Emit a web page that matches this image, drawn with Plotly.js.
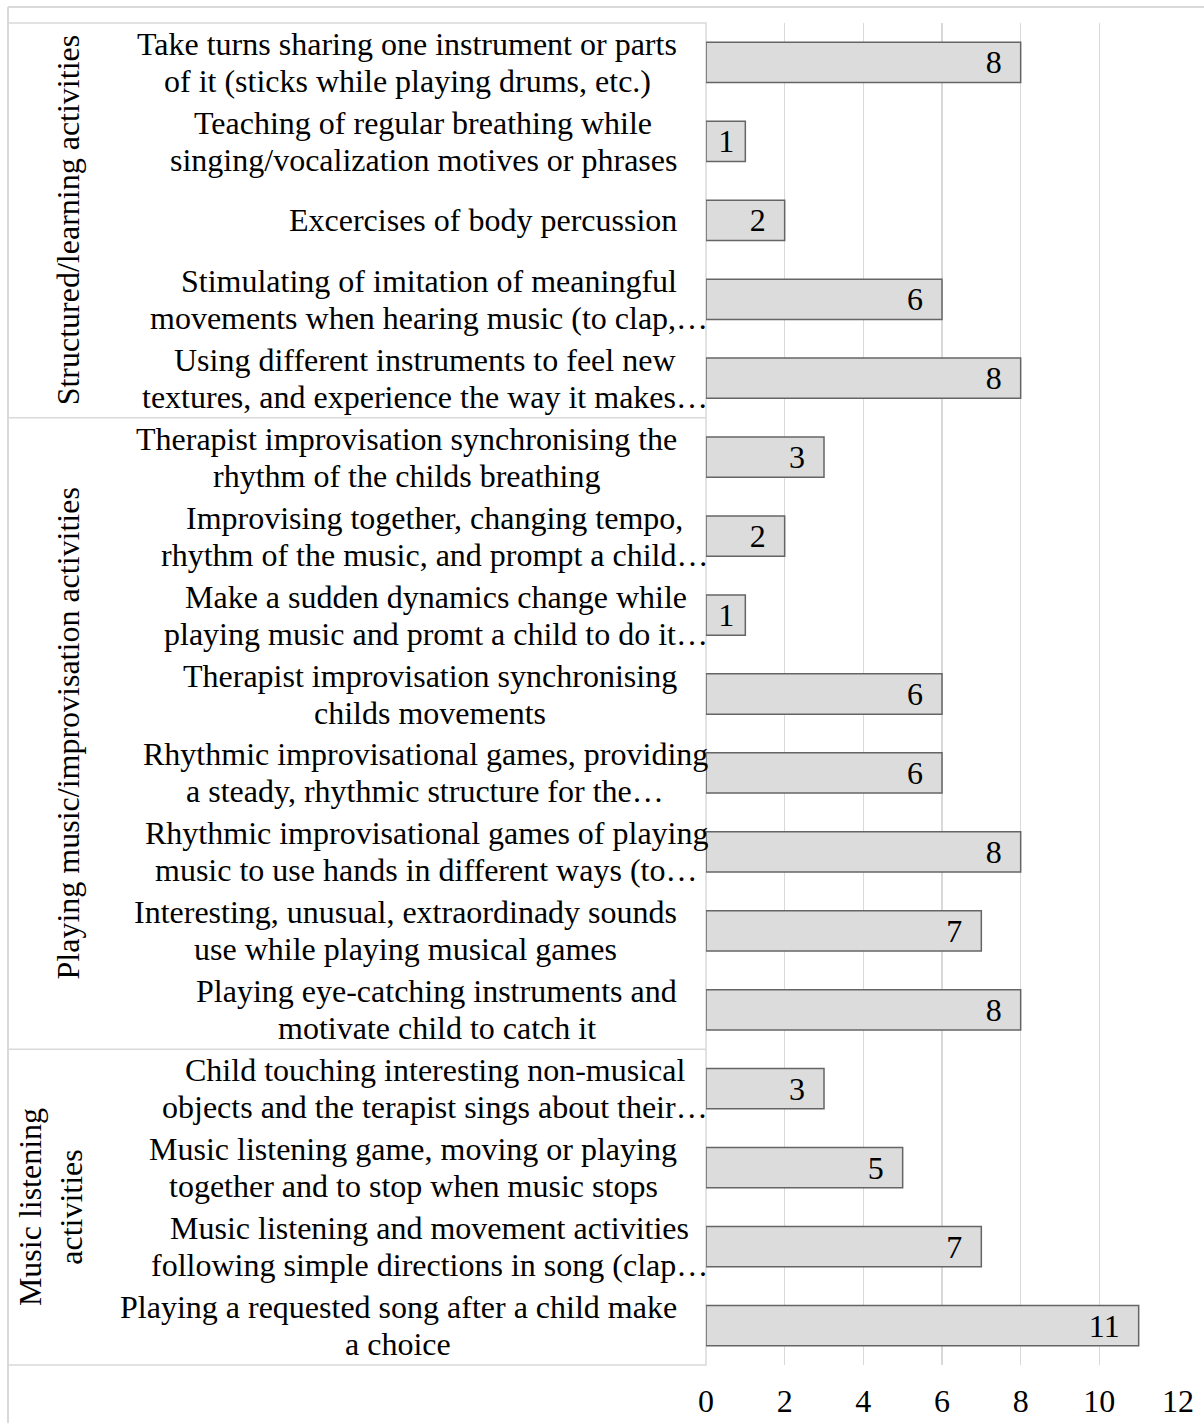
<!DOCTYPE html>
<html>
<head>
<meta charset="utf-8">
<script src="https://cdn.plot.ly/plotly-3.0.1.min.js"></script>
<style>html,body{margin:0;padding:0;background:#fff;}</style>
</head>
<body>
<div id="chart" style="width:1204px;height:1423px;"></div>
<script>
// Category labels (top to bottom)
const labels = [
  "Take turns sharing one instrument or parts\nof it (sticks while playing drums, etc.)",
  "Teaching of regular breathing while\nsinging/vocalization motives or phrases",
  "Excercises of body percussion",
  "Stimulating of imitation of meaningful\nmovements when hearing music (to clap,…",
  "Using different instruments to feel new\ntextures, and experience the way it makes…",
  "Therapist improvisation synchronising the\nrhythm of the childs breathing",
  "Improvising together, changing tempo,\nrhythm of the music, and prompt a child…",
  "Make a sudden dynamics change while\nplaying music and promt a child to do it…",
  "Therapist improvisation synchronising\nchilds movements",
  "Rhythmic improvisational games, providing\na steady, rhythmic structure for the…",
  "Rhythmic improvisational games of playing\nmusic to use hands in different ways (to…",
  "Interesting, unusual, extraordinady sounds\nuse while playing musical games",
  "Playing eye-catching instruments and\nmotivate child to catch it",
  "Child touching interesting non-musical\nobjects and the terapist sings about their…",
  "Music listening game, moving or playing\ntogether and to stop when music stops",
  "Music listening and movement activities\nfollowing simple directions in song (clap…",
  "Playing a requested song after a child make\na choice"
];
// Counts
const values = [8, 1, 2, 6, 8, 3, 2, 1, 6, 6, 8, 7, 8, 3, 5, 7, 11];
// Group labels and number of categories in each group
const groupNames = ["Structured/learning activities", "Playing music/improvisation activities", "Music listening\nactivities"];
const groupSizes = [5, 8, 4];
// X axis ticks
const xTicks = [0, 2, 4, 6, 8, 10, 12];

const FONT = "Liberation Serif, 'Times New Roman', serif";
const FS = 32;
const LINE_H = 37;
const N = labels.length;
const cats = labels.map(s => s.replace("\n", " "));

const barText = values.map(v => String(v) + (v < 2 ? "\u00a0" : "\u00a0\u00a0"));

const trace = {
  type: "bar",
  orientation: "h",
  x: values,
  y: cats,
  text: barText,
  textposition: "inside",
  insidetextanchor: "end",
  constraintext: "none",
  textangle: 0,
  textfont: {family: FONT, size: FS, color: "#000"},
  marker: {color: "#dcdcdc", line: {color: "#656565", width: 1.5}},
  hoverinfo: "skip"
};

// pixel geometry helpers (layout)
const W = 1204, H = 1423;
const mL = 706, mR = 26, mT = 23, mB = 58;
const pw = W - mL - mR, ph = H - mT - mB;
const px2x = p => (p - mL) / pw;
const px2y = p => (H - mB - p) / ph;

// text measuring for centred multi-line labels
const cv = document.createElement("canvas").getContext("2d");
cv.font = FS + "px 'Liberation Serif'";
const tw = s => cv.measureText(s).width;

const annotations = [];
labels.forEach((l, i) => {
  const lines = l.split("\n");
  const trunc = lines[lines.length - 1].endsWith("…");
  const right = trunc ? 708 : 677;
  const block = Math.max(...lines.map(tw));
  const cx = right - block / 2;
  lines.forEach((ln, k) => {
    annotations.push({
      xref: "paper", yref: "y", x: 0, y: cats[i],
      xanchor: "center", yanchor: "middle", align: "center",
      xshift: cx - mL,
      yshift: ((lines.length - 1) / 2 - k) * LINE_H,
      text: ln, showarrow: false,
      font: {family: FONT, size: FS, color: "#000"}
    });
  });
});

const shapes = [];
const gray = "#d9d9d9";
// label panel box
shapes.push({type: "rect", xref: "paper", yref: "paper", x0: px2x(8), x1: 0, y0: 0, y1: 1,
  line: {color: gray, width: 1.5}, layer: "below"});
// outer frame (top and left edges)
shapes.push({type: "line", xref: "paper", yref: "paper", x0: px2x(8), x1: px2x(W + 5), y0: px2y(7), y1: px2y(7), line: {color: gray, width: 2}});
shapes.push({type: "line", xref: "paper", yref: "paper", x0: px2x(8), x1: px2x(8), y0: px2y(7), y1: px2y(H + 5), line: {color: gray, width: 2}});

let start = 0;
groupNames.forEach((g, gi) => {
  const end = start + groupSizes[gi];
  if (gi > 0) {
    const yp = 1 - start / N;
    shapes.push({type: "line", xref: "paper", yref: "paper", x0: px2x(8), x1: 0, y0: yp, y1: yp, line: {color: gray, width: 1.5}});
  }
  const multi = g.includes("\n");
  annotations.push({
    xref: "paper", yref: "paper", x: 0, y: 1 - (start + end) / 2 / N,
    xanchor: "center", yanchor: "middle", align: "center",
    xshift: multi ? (51 - mL) : (68 - mL),
    textangle: -90,
    text: g.split("\n").join("<br>"), showarrow: false,
    font: {family: FONT, size: FS, color: "#000"}
  });
  start = end;
});

const layout = {
  width: W, height: H,
  margin: {l: mL, r: mR, t: mT, b: mB, pad: 0},
  paper_bgcolor: "#fff", plot_bgcolor: "#fff",
  showlegend: false,
  bargap: 0.49,
  font: {family: FONT, size: FS, color: "#000"},
  xaxis: {
    range: [0, 12], tickvals: xTicks, ticktext: xTicks.map(String),
    showgrid: true, gridcolor: gray, gridwidth: 1.5,
    zeroline: false, showline: false, ticks: "",
    ticklabelstandoff: 14,
    tickfont: {family: FONT, size: FS, color: "#000"},
    fixedrange: true
  },
  yaxis: {
    type: "category", categoryorder: "array", categoryarray: cats,
    range: [N - 0.5, -0.5],
    showticklabels: false, showgrid: false, zeroline: false, showline: false, ticks: "",
    fixedrange: true
  },
  shapes: shapes,
  annotations: annotations
};

Plotly.newPlot("chart", [trace], layout, {displayModeBar: false, staticPlot: true});
</script>
</body>
</html>
